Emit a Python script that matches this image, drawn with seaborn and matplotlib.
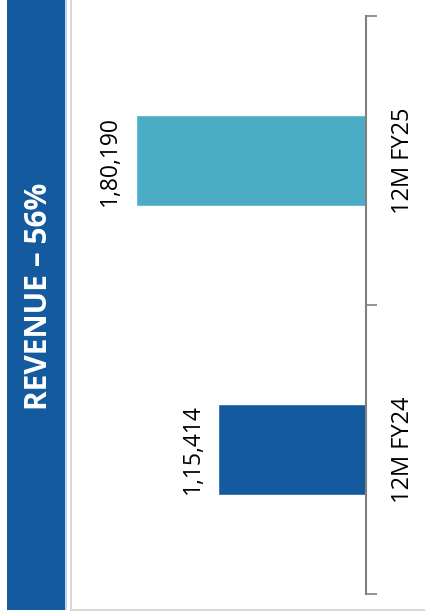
import matplotlib
matplotlib.use("Agg")
import matplotlib.pyplot as plt
import matplotlib.patches as patches
import seaborn as sns
import pandas as pd

# Data
periods = ["12M FY25", "12M FY24"]
revenue = [180190, 115414]
value_labels = ["1,80,190", "1,15,414"]
bar_colors = ["#4BACC6", "#135A9E"]
banner_text = "REVENUE \u2013 56%"

sns.set_style("white")
plt.rcParams["font.family"] = ["Open Sans", "DejaVu Sans"]

df = pd.DataFrame({"period": periods, "revenue": revenue})

W, H = 425, 613
fig = plt.figure(figsize=(W / 100, H / 100), dpi=100)

# ---------------- BANNER + PANEL ---------------- #
fig.patches.append(patches.Rectangle((7 / W, 3 / H), 58 / W, 610 / H,
                                     transform=fig.transFigure, facecolor="#135A9E",
                                     edgecolor="none", zorder=-2))
fig.patches.append(patches.Rectangle((65 / W, 3 / H), 1.5 / W, 610 / H,
                                     transform=fig.transFigure, facecolor="#BDD7EE",
                                     edgecolor="none", zorder=-2))
fig.patches.append(patches.Rectangle((70.5 / W, 3.5 / H), 360 / W, 620 / H,
                                     transform=fig.transFigure, facecolor="white",
                                     edgecolor="#D9D9D9", lw=1.5, zorder=-2))
fig.text(39 / W, 1 - 296 / H, banner_text, rotation=90, color="white",
         fontsize=21.5, fontweight="bold", ha="center", va="center")

# ---------------- BAR CHART ---------------- #
ax = fig.add_axes([72 / W, 19 / H, 294 / W, 578 / H], zorder=2)
ax.patch.set_alpha(0)
sns.barplot(data=df, x="revenue", y="period", hue="period", order=periods,
            palette=dict(zip(periods, bar_colors)), width=0.315, legend=False,
            saturation=1, ax=ax)
ax.set_xlim(230000, 0)
ax.set_ylim(1.5, -0.5)

for s in ["top", "left", "bottom"]:
    ax.spines[s].set_visible(False)
ax.spines["right"].set_color("#808080")
ax.spines["right"].set_linewidth(1.5)

ax.set_xticks([])
ax.set_xlabel("")
ax.set_ylabel("")
ax.yaxis.tick_right()
ax.set_yticks([-0.5, 0.5, 1.5], minor=True)
ax.tick_params(axis="y", which="minor", right=True, length=8, width=1.2,
               color="#808080", direction="out")
ax.tick_params(axis="y", which="major", right=True, length=0, pad=18,
               labelsize=17, labelcolor="black")
for lbl in ax.get_yticklabels():
    lbl.set_rotation(90)
    lbl.set_va("center")

for i, (v, t) in enumerate(zip(revenue, value_labels)):
    ax.annotate(t, xy=(v, i), xytext=(-10, 0), textcoords="offset points",
                rotation=90, ha="right", va="center", fontsize=16.5,
                color="black")

fig.savefig("out.png", dpi=100)
